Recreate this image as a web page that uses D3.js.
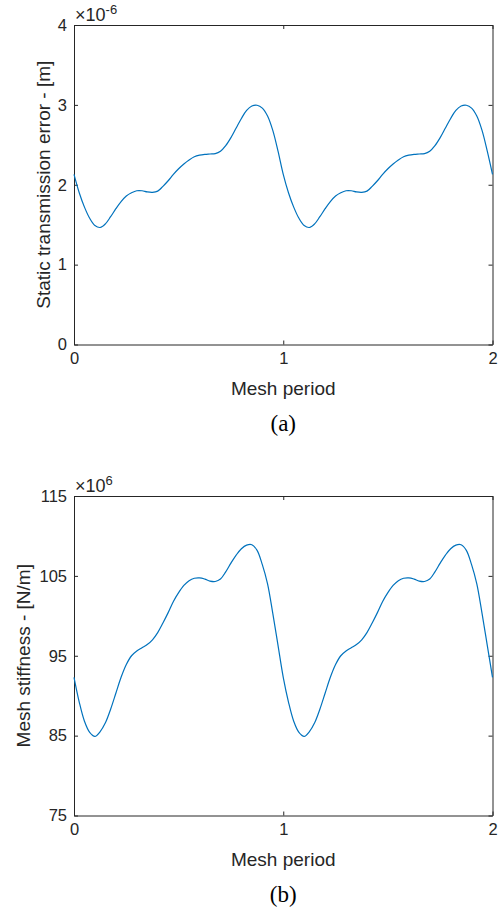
<!DOCTYPE html>
<html>
<head>
<meta charset="utf-8">
<script src="https://cdn.jsdelivr.net/npm/d3@7"></script>
<style>
  body { margin: 0; background: #fff; }
  svg { display: block; }
  .tick text { font-family: "Liberation Sans", Arial, sans-serif; font-size: 16.5px; fill: #262626; }
  .lbl { font-family: "Liberation Sans", Arial, sans-serif; font-size: 19px; fill: #262626; }
  .cap { font-family: "Liberation Serif", "Times New Roman", serif; font-size: 23px; fill: #000; }
</style>
</head>
<body>
<div id="chart"></div>
<script>
// mesh position, in mesh periods (0.025 steps)
var meshPos = d3.range(81).map(function(i) { return i / 40; });

// static transmission error, x1e-6 m
var steVals = [
  2.13, 1.90, 1.72, 1.58, 1.49, 1.465, 1.51, 1.60, 1.70, 1.79,
  1.86, 1.90, 1.925, 1.925, 1.91, 1.905, 1.92, 1.98, 2.05, 2.13,
  2.20, 2.26, 2.31, 2.35, 2.37, 2.38, 2.385, 2.39, 2.42, 2.49,
  2.59, 2.71, 2.83, 2.93, 2.985, 2.995, 2.96, 2.86, 2.68, 2.42,
  2.13, 1.90, 1.72, 1.58, 1.49, 1.465, 1.51, 1.60, 1.70, 1.79,
  1.86, 1.90, 1.925, 1.925, 1.91, 1.905, 1.92, 1.98, 2.05, 2.13,
  2.20, 2.26, 2.31, 2.35, 2.37, 2.38, 2.385, 2.39, 2.42, 2.49,
  2.59, 2.71, 2.83, 2.93, 2.985, 2.995, 2.96, 2.86, 2.68, 2.42,
  2.13
];

// mesh stiffness, x1e6 N/m
var stiffVals = [
  92.3, 89.2, 86.8, 85.4, 84.9, 85.5, 86.6, 88.3, 90.3, 92.3,
  93.9, 95.0, 95.6, 96.0, 96.4, 97.0, 97.9, 99.1, 100.4, 101.8,
  102.9, 103.8, 104.4, 104.7, 104.75, 104.6, 104.35, 104.3, 104.6, 105.5,
  106.6, 107.6, 108.4, 108.85, 108.9, 108.2, 106.4, 104.0, 100.3, 96.3,
  92.3, 89.2, 86.8, 85.4, 84.9, 85.5, 86.6, 88.3, 90.3, 92.3,
  93.9, 95.0, 95.6, 96.0, 96.4, 97.0, 97.9, 99.1, 100.4, 101.8,
  102.9, 103.8, 104.4, 104.7, 104.75, 104.6, 104.35, 104.3, 104.6, 105.5,
  106.6, 107.6, 108.4, 108.85, 108.9, 108.2, 106.4, 104.0, 100.3, 96.3,
  92.3
];

var xTicks = [0, 1, 2];
var steTicks = [0, 1, 2, 3, 4];
var stiffTicks = [75, 85, 95, 105, 115];

var width = 502, height = 910;
var svg = d3.select("#chart").append("svg")
    .attr("width", width)
    .attr("height", height);

var left = 74, right = 492.5;

function panel(cfg) {
  var x = d3.scaleLinear().domain([0, 2]).range([left, right]);
  var y = d3.scaleLinear().domain(cfg.domain).range([cfg.bottom, cfg.top]);
  var g = svg.append("g");

  // box + inward ticks on all four sides
  g.append("g")
      .attr("transform", "translate(0," + cfg.bottom + ")")
      .call(d3.axisBottom(x).tickValues(xTicks).tickFormat(d3.format("d"))
        .tickSizeInner(-4).tickSizeOuter(0).tickPadding(8));
  g.append("g")
      .attr("transform", "translate(0," + cfg.top + ")")
      .call(d3.axisTop(x).tickValues(xTicks).tickFormat("")
        .tickSizeInner(-4).tickSizeOuter(0));
  g.append("g")
      .attr("transform", "translate(" + left + ",0)")
      .call(d3.axisLeft(y).tickValues(cfg.ticks).tickFormat(d3.format("d"))
        .tickSizeInner(-4).tickSizeOuter(0).tickPadding(7));
  g.append("g")
      .attr("transform", "translate(" + right + ",0)")
      .call(d3.axisRight(y).tickValues(cfg.ticks).tickFormat("")
        .tickSizeInner(-4).tickSizeOuter(0));

  g.selectAll(".domain, .tick line").attr("stroke", "#262626").attr("stroke-width", 1);
  g.selectAll(".tick text").attr("fill", "#262626");

  var line = d3.line()
      .x(function(d, i) { return x(meshPos[i]); })
      .y(function(d) { return y(d); })
      .curve(d3.curveCatmullRom.alpha(0.5));

  g.append("path")
      .datum(cfg.values)
      .attr("fill", "none")
      .attr("stroke", "#0072BD")
      .attr("stroke-width", 1.2)
      .attr("d", line);

  // exponent
  var ex = g.append("text").attr("class", "lbl")
      .attr("x", left + 1).attr("y", cfg.top - 4)
      .style("font-size", "18px");
  ex.append("tspan").text("\u00d710");
  ex.append("tspan").attr("dy", -7).style("font-size", "13px").text(cfg.exp);

  g.append("text").attr("class", "lbl")
      .attr("text-anchor", "middle")
      .attr("x", (left + right) / 2)
      .attr("y", cfg.bottom + 50)
      .text("Mesh period");

  g.append("text").attr("class", "lbl")
      .attr("text-anchor", "middle")
      .attr("transform", "translate(" + cfg.ylx + "," + (cfg.top + cfg.bottom) / 2 + ") rotate(-90)")
      .text(cfg.ylabel);

  g.append("text").attr("class", "cap")
      .attr("text-anchor", "middle")
      .attr("x", (left + right) / 2)
      .attr("y", cfg.bottom + 86)
      .text(cfg.cap);
}

panel({ top: 25, bottom: 344.5, domain: [0, 4], ticks: steTicks, values: steVals,
        exp: "-6", ylabel: "Static transmission error - [m]", ylx: 50, cap: "(a)" });
panel({ top: 496, bottom: 815.5, domain: [75, 115], ticks: stiffTicks, values: stiffVals,
        exp: "6", ylabel: "Mesh stiffness - [N/m]", ylx: 30, cap: "(b)" });
</script>
</body>
</html>
